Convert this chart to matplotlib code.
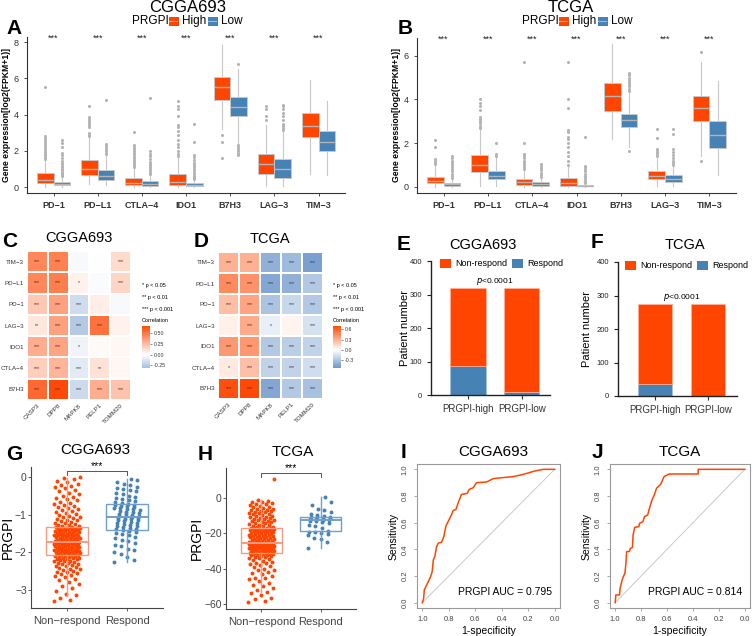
import numpy as np
import matplotlib
matplotlib.use("Agg")
from matplotlib import pyplot as plt
from matplotlib.colors import LinearSegmentedColormap, Normalize
from matplotlib.cm import ScalarMappable

plt.rcParams['font.family'] = ['Liberation Sans', 'DejaVu Sans']

ORANGE = '#FF4500'
BLUE = '#4682B4'

genes = ['PD-1', 'PD-L1', 'CTLA-4', 'IDO1', 'B7H3', 'LAG-3', 'TIM-3']
gene_ticks = ['PD\u22121', 'PD\u2212L1', 'CTLA\u22124', 'IDO1', 'B7H3', 'LAG\u22123', 'TIM\u22123']

# box stats per gene: (q1, median, q3, whisker low, whisker high)
cgga_high = [(0.22, 0.40, 0.77, 0.0, 1.5), (0.68, 1.02, 1.51, 0.15, 2.7), (0.13, 0.25, 0.51, 0.0, 1.05),
             (0.13, 0.30, 0.73, 0.0, 1.6), (4.82, 5.50, 6.07, 3.2, 7.85), (0.74, 1.25, 1.80, 0.03, 3.4),
             (2.74, 3.39, 4.10, 0.7, 5.9)]
cgga_low = [(0.09, 0.17, 0.28, 0.0, 0.55), (0.37, 0.60, 0.92, 0.1, 1.7), (0.06, 0.18, 0.31, 0.0, 0.65),
            (0.05, 0.12, 0.20, 0.0, 0.4), (3.90, 4.40, 4.96, 2.4, 6.5), (0.50, 0.97, 1.55, 0.03, 3.05),
            (1.99, 2.50, 3.09, 0.65, 4.75)]
cgga_high_fl = [[1.55, 1.6, 1.68, 1.75, 1.85, 1.95, 2.05, 2.15, 2.25, 2.35, 2.5, 2.62, 2.72, 2.8, 5.5],
                [2.8, 2.9, 3.0, 3.3, 3.45, 3.55, 3.65, 3.75, 3.85, 4.45],
                [1.1, 1.2, 1.3, 1.4, 1.5, 1.6, 1.7, 1.8, 1.9, 2.0, 2.1, 2.2, 2.3, 3.05],
                [1.7, 1.85, 2.0, 2.2, 2.4, 2.6, 2.85, 3.1, 3.3, 3.45, 3.9, 4.3, 4.5, 4.75],
                [2.85, 2.5, 1.6],
                [3.7, 3.95, 4.3, 4.45],
                []]
cgga_low_fl = [[0.6, 0.65, 0.7, 0.78, 0.85, 0.92, 1.0, 1.08, 1.15, 1.25, 1.35, 1.45, 1.6, 1.75, 1.9, 2.2, 2.45, 2.6],
               [1.8, 1.9, 2.0, 2.1, 2.2, 2.3, 2.35, 4.8],
               [0.7, 0.8, 0.9, 1.0, 1.1, 1.2, 1.3, 1.4, 1.55, 1.7, 1.85, 2.0, 4.9],
               [0.45, 0.5, 0.55, 0.6, 0.7, 0.8, 0.9, 1.0, 1.1, 1.2, 1.35, 1.5, 1.65, 1.75, 2.5, 3.5],
               [6.8, 2.3, 2.2, 2.1, 2.0, 1.9, 1.8, 1.75],
               [3.15, 3.25, 3.35, 3.5, 3.7, 3.9, 4.1, 4.3, 4.45, 4.55],
               []]

tcga_high = [(0.15, 0.27, 0.46, 0.0, 1.0), (0.66, 0.98, 1.45, 0.05, 2.6), (0.08, 0.20, 0.35, 0.0, 0.75),
             (0.05, 0.15, 0.41, 0.0, 0.95), (3.45, 4.15, 4.75, 2.2, 6.55), (0.35, 0.50, 0.72, 0.02, 1.3),
             (2.99, 3.60, 4.14, 1.4, 5.7)]
tcga_low = [(0.03, 0.10, 0.17, 0.0, 0.35), (0.34, 0.50, 0.72, 0.05, 1.3), (0.05, 0.13, 0.21, 0.0, 0.4),
            (0.01, 0.02, 0.06, 0.0, 0.1), (2.73, 3.05, 3.34, 1.8, 4.3), (0.23, 0.36, 0.54, 0.02, 0.95),
            (1.76, 2.35, 3.00, 0.55, 4.85)]
tcga_high_fl = [[1.05, 1.1, 1.15, 1.2, 1.25, 1.8, 2.15],
                [2.7, 2.8, 2.9, 3.0, 3.1, 3.2, 3.5, 3.7, 3.85, 4.0],
                [0.8, 0.9, 1.0, 1.1, 1.2, 1.3, 1.4, 1.5, 2.0, 5.7],
                [1.0, 1.2, 1.4, 1.6, 1.8, 2.0, 2.2, 2.3, 2.5, 2.6, 3.6, 4.0, 5.7],
                [],
                [1.4, 1.5, 1.6, 1.7, 1.75, 2.25, 2.65],
                [6.2, 1.2]]
tcga_low_fl = [[0.4, 0.5, 0.6, 0.7, 0.8, 0.9, 1.0, 1.1, 1.2, 1.3, 1.4],
               [1.4, 1.5, 2.0],
               [0.45, 0.55, 0.65, 0.75, 0.85, 0.95, 1.05],
               [0.15, 0.2, 0.3, 0.4, 0.5, 0.6, 0.7, 0.8, 0.9, 0.95, 2.3],
               [4.4, 4.5, 4.6, 4.7, 4.8, 4.9, 5.0, 5.1, 5.2, 1.65],
               [1.0, 1.1, 1.2, 1.3, 1.45, 1.6, 1.75, 2.4, 2.65],
               []]

# correlation heatmaps
hm_rows = ['TIM\u22123', 'PD\u2212L1', 'PD\u22121', 'LAG\u22123', 'IDO1', 'CTLA\u22124', 'B7H3']
hm_cols = ['CASP3', 'DPP8', 'MAPK8', 'PELP1', 'TOMM20']
cgga_cor = [[0.44, 0.46, -0.03, 0.00, 0.13],
            [0.44, 0.47, 0.05, -0.02, 0.15],
            [0.20, 0.34, -0.17, 0.06, -0.03],
            [0.09, 0.34, -0.26, 0.52, 0.05],
            [0.30, 0.33, -0.05, 0.02, 0.03],
            [0.18, 0.27, -0.10, 0.11, 0.03],
            [0.55, 0.66, -0.18, 0.30, 0.22]]
cgga_sig = [['***', '***', '', '', '***'],
            ['***', '***', '*', '', '***'],
            ['***', '***', '***', '', ''],
            ['**', '***', '***', '***', ''],
            ['***', '***', '*', '', ''],
            ['***', '***', '***', '**', ''],
            ['***', '***', '***', '***', '***']]
tcga_cor = [[0.30, 0.30, -0.40, -0.35, -0.48],
            [0.45, 0.42, -0.45, -0.40, -0.28],
            [0.25, 0.35, -0.30, -0.20, -0.28],
            [0.06, 0.33, -0.08, 0.04, -0.15],
            [0.40, 0.40, -0.28, -0.25, -0.22],
            [0.08, 0.25, -0.22, -0.22, -0.17],
            [0.68, 0.70, -0.45, -0.28, -0.32]]
tcga_sig = [['***', '***', '***', '***', '***'],
            ['***', '***', '***', '***', '***'],
            ['***', '***', '***', '***', '***'],
            ['', '***', '*', '', '***'],
            ['***', '***', '***', '***', '***'],
            ['*', '***', '***', '***', '***'],
            ['***', '***', '***', '***', '***']]

# response counts
groups = ['PRGPI-high', 'PRGPI-low']
cgga_resp = [88, 9]
cgga_nonresp = [231, 310]
tcga_resp = [36, 1]
tcga_nonresp = [239, 274]

# PRGPI scores by response
g_non = [-3.30, -3.27, -3.21, -3.14, -3.10, -3.03, -2.95, -2.90, -2.84, -2.79, -2.74, -2.70, -2.66, -2.63, -2.61,
         -2.58, -2.56, -2.53, -2.51, -2.49, -2.47, -2.45, -2.43, -2.41, -2.39, -2.37, -2.35, -2.34, -2.32, -2.30,
         -2.29, -2.27, -2.26, -2.24, -2.23, -2.22, -2.20, -2.19, -2.18, -2.17, -2.16, -2.15, -2.14, -2.13, -2.12,
         -2.11, -2.10, -2.09, -2.08, -2.07,
         -2.06, -2.05, -2.05, -2.04, -2.03, -2.02, -2.02, -2.01, -2.00, -1.99, -1.99, -1.98, -1.97, -1.96, -1.96,
         -1.95, -1.94, -1.93, -1.93, -1.92, -1.91, -1.90, -1.90, -1.89, -1.88, -1.87, -1.87, -1.86, -1.85, -1.84,
         -1.84, -1.83, -1.82, -1.81, -1.81, -1.80, -1.79, -1.78, -1.78, -1.77, -1.76, -1.76, -1.75, -1.75, -1.74,
         -1.74, -1.73, -1.73, -1.72, -1.72,
         -1.71, -1.70, -1.70, -1.69, -1.68, -1.67, -1.67, -1.66, -1.65, -1.64, -1.63, -1.63, -1.62, -1.61, -1.60,
         -1.59, -1.58, -1.58, -1.57, -1.56, -1.55, -1.54, -1.54, -1.53, -1.52, -1.51, -1.50, -1.50, -1.49, -1.48,
         -1.47, -1.46, -1.45, -1.45, -1.44, -1.43, -1.42, -1.41, -1.41, -1.40, -1.39, -1.38, -1.38, -1.37, -1.36,
         -1.35, -1.35, -1.34, -1.34, -1.33,
         -1.32, -1.30, -1.29, -1.27, -1.26, -1.24, -1.22, -1.21, -1.19, -1.17, -1.15, -1.13, -1.11, -1.09, -1.07,
         -1.05, -1.02, -1.00, -0.98, -0.95, -0.93, -0.90, -0.88, -0.85, -0.82, -0.80, -0.77, -0.74, -0.71, -0.68,
         -0.65, -0.62, -0.59, -0.56, -0.52, -0.49, -0.45, -0.41, -0.37, -0.33, -0.29, -0.26, -0.23, -0.21, -0.19,
         -0.14, -0.10, -0.06, -0.03, 0.00]
g_resp = [-2.25, -2.20, -2.12, -2.05, -1.98, -1.95, -1.90, -1.84, -1.80, -1.75, -1.70, -1.66, -1.62, -1.58, -1.55,
          -1.52, -1.49, -1.46, -1.43, -1.41, -1.39, -1.37, -1.35, -1.33, -1.31, -1.29, -1.27, -1.25, -1.23, -1.21,
          -1.19, -1.17, -1.15, -1.14, -1.12, -1.10, -1.09, -1.08, -1.06, -1.05, -1.04, -1.02, -1.00, -0.99, -0.97,
          -0.95, -0.93, -0.92, -0.90, -0.88, -0.86, -0.85, -0.83, -0.81, -0.79, -0.78, -0.76, -0.75, -0.73, -0.72,
          -0.70, -0.67, -0.64, -0.61, -0.58, -0.55, -0.52, -0.49, -0.45, -0.42, -0.38, -0.35, -0.31, -0.28, -0.25,
          -0.21, -0.17, -0.13, -0.08, -0.05]
h_non = [-59, -58, -57, -56.5, -55, -54, -53, -52, -51, -50, -49, -48, -47, -46, -45.5, -45, -44, -43, -42.5, -42,
         -41, -40.5, -40, -39, -38.5, -38, -37.5, -37, -36.5, -36, -35.5, -35, -34.5, -34, -33.8, -33.5, -33.2, -33,
         -32.8, -32.5, -32.3, -32, -31.9, -31.7, -31.5, -31.4, -31.3, -31.2, -31.1, -31,
         -30.9, -30.8, -30.6, -30.5, -30.4, -30.2, -30.1, -30, -29.8, -29.7, -29.5, -29.4, -29.2, -29.1, -29,
         -28.8, -28.7, -28.5, -28.4, -28.2, -28.1, -28, -27.8, -27.7, -27.5, -27.4, -27.3, -27.1, -27, -26.9,
         -26.8, -26.6, -26.5, -26.4, -26.3, -26.2, -26.1, -26, -25.9, -25.85, -25.8, -25.75, -25.7, -25.65, -25.6,
         -25.58, -25.55, -25.53, -25.51, -25.5,
         -25.3, -25.1, -24.9, -24.7, -24.5, -24.3, -24.1, -23.9, -23.7, -23.5, -23.3, -23.1, -22.9, -22.7, -22.5,
         -22.3, -22.1, -21.9, -21.7, -21.5, -21.3, -21.1, -20.9, -20.7, -20.5, -20.3, -20.1, -19.9, -19.7, -19.5,
         -19.3, -19.1, -18.9, -18.7, -18.5, -18.4, -18.2, -18.1, -17.9, -17.8, -17.7, -17.6, -17.5, -17.4, -17.3,
         -17.25, -17.2, -17.1, -17.05, -17.0,
         -16.8, -16.5, -16.2, -15.9, -15.6, -15.3, -15.0, -14.7, -14.4, -14.1, -13.8, -13.5, -13.2, -12.9, -12.6,
         -12.3, -12.0, -11.7, -11.4, -11.1, -10.8, -10.5, -10.2, -9.9, -9.6, -9.3, -9.0, -8.7, -8.4, -8.1, -7.8,
         -7.5, -7.2, -6.9, -6.6, -6.3, -6.0, -5.6, -5.2, -4.8, -4.4, -4.0, -3.6, -3.2, -2.8, -2.4, -2.0, -1.5,
         -1.0, 10.5]
h_resp = [-28, -25, -23, -22.5, -21, -20.5, -20, -19.5, -19, -18.5, -17, -16, -15, -14, -13.5, -13, -12.8, -12.5,
          -12.2, -12, -11.8, -11.5, -11.2, -11, -10.8, -10.5, -10, -9.5, -9, -8, -7, -6, -4, -2, 0.5]
# box stats (q1, median, q3, whisker low, whisker high)
g_box = [(-2.07, -1.72, -1.33, -3.15, -0.03), (-1.40, -1.05, -0.72, -2.25, -0.05)]
h_box = [(-31.0, -25.5, -17.0, -53.0, -1.0), (-18.5, -12.5, -10.5, -28.0, 0.5)]

# ROC curves (specificity, sensitivity)
cgga_spec = [1.0, 0.99, 0.985, 0.967, 0.955, 0.937, 0.925, 0.917, 0.905, 0.892, 0.879, 0.854, 0.837, 0.822,
             0.804, 0.779, 0.766, 0.746, 0.729, 0.704, 0.661, 0.646, 0.616, 0.59, 0.515, 0.465, 0.402, 0.314,
             0.239, 0.151, 0.088, 0.0]
cgga_sens = [0.0, 0.03, 0.095, 0.133, 0.158, 0.196, 0.234, 0.32, 0.347, 0.42, 0.447, 0.452, 0.497, 0.573,
             0.61, 0.66, 0.693, 0.698, 0.749, 0.812, 0.819, 0.849, 0.862, 0.9, 0.905, 0.93, 0.937, 0.945,
             0.962, 0.987, 1.0, 1.0]
tcga_spec = [1.0, 0.995, 0.967, 0.962, 0.95, 0.937, 0.925, 0.917, 0.912, 0.892, 0.882, 0.867, 0.862, 0.849,
             0.817, 0.812, 0.786, 0.774, 0.749, 0.736, 0.716, 0.698, 0.681, 0.648, 0.623, 0.585, 0.36, 0.36, 0.0]
tcga_sens = [0.0, 0.058, 0.058, 0.108, 0.158, 0.195, 0.22, 0.295, 0.383, 0.383, 0.408, 0.413, 0.508, 0.565,
             0.57, 0.595, 0.608, 0.645, 0.658, 0.708, 0.77, 0.808, 0.858, 0.89, 0.945, 0.965, 0.965, 1.0, 1.0]

W, H = 753, 636
fig = plt.figure(figsize=(W / 100, H / 100), dpi=100)


def px_axes(l, t, r, b):
    return fig.add_axes([l / W, 1 - b / H, (r - l) / W, (b - t) / H])


def ftext(x, y, s, **kw):
    kw.setdefault('ha', 'center')
    kw.setdefault('va', 'center')
    fig.text(x / W, 1 - y / H, s, **kw)


def swatch(l, t, r, b, col, mid=None):
    ax = px_axes(l, t, r, b)
    ax.axis('off')
    ax.set_xlim(0, 1)
    ax.set_ylim(0, 1)
    ax.fill_between([0, 1], 0, 1, color=col)
    if mid:
        ax.plot([0, 1], [0.5, 0.5], color=mid, lw=0.8)


def classic(ax, color='#333333'):
    for s in ['top', 'right']:
        ax.spines[s].set_visible(False)
    for s in ['left', 'bottom']:
        ax.spines[s].set_color(color)
        ax.spines[s].set_linewidth(0.8)
    ax.tick_params(colors=color, width=0.6, length=2.5)


def stats_list(box, fliers):
    out = []
    for (q1, med, q3, lo, hi), fl in zip(box, fliers):
        out.append(dict(q1=q1, med=med, q3=q3, whislo=lo, whishi=hi, fliers=fl))
    return out


def expr_panel(ax, high, low, high_fl, low_fl, ylim, yticks):
    pos = np.arange(1, 8)
    for st, fl, dx, col in [(high, high_fl, -0.1875, ORANGE), (low, low_fl, 0.1875, BLUE)]:
        ax.bxp(stats_list(st, fl), positions=pos + dx, widths=0.375, patch_artist=True, showcaps=False,
               boxprops=dict(facecolor=col, edgecolor='#C8C8C8', linewidth=0.7),
               medianprops=dict(color='#B4B4B4', linewidth=1.0),
               whiskerprops=dict(color='#C8C8C8', linewidth=0.8),
               flierprops=dict(marker='o', markersize=2.2, markerfacecolor='#B4B4B4', markeredgecolor='none'))
    ax.set_xlim(0.4, 7.6)
    ax.set_ylim(*ylim)
    ax.set_yticks(yticks)
    ax.set_xticks(pos)
    ax.set_xticklabels(gene_ticks, fontsize=6.5, fontweight='bold', color='#222222')
    ax.tick_params(axis='y', labelsize=6.5)
    ax.set_ylabel('Gene expression[log2(FPKM+1)]', fontsize=6.2, fontweight='bold', labelpad=2)
    classic(ax)
    star_y = ylim[1] - (ylim[1] - ylim[0]) * 0.01
    for p in pos:
        ax.text(p, star_y, '***', ha='center', va='center', fontsize=6.5, color='#222222')


def legend_high_low(x0, y0):
    ftext(x0, y0, 'PRGPI', fontsize=8.5, ha='left')
    for dx, lab, col in [(37, 'High', ORANGE), (76, 'Low', BLUE)]:
        swatch(x0 + dx, y0 - 4, x0 + dx + 9, y0 + 4, col, '#B4B4B4')
        ftext(x0 + dx + 13, y0, lab, fontsize=8.5, ha='left')


# A
axA = px_axes(27, 37, 345, 193)
expr_panel(axA, cgga_high, cgga_low, cgga_high_fl, cgga_low_fl, (-0.33, 8.29), [0, 2, 4, 6, 8])
ftext(188, 7, 'CGGA693', fontsize=12)
legend_high_low(132, 21)
ftext(14, 29, 'A', fontsize=15, fontweight='bold')

# B
axB = px_axes(417, 38, 736, 193)
expr_panel(axB, tcga_high, tcga_low, tcga_high_fl, tcga_low_fl, (-0.29, 6.82), [0, 2, 4, 6])
ftext(571, 7, 'TCGA', fontsize=12)
legend_high_low(522, 21)
ftext(405, 29, 'B', fontsize=15, fontweight='bold')

# heatmaps
hm_cmap = LinearSegmentedColormap.from_list('rb', ['#3A72B8', '#FFFFFF', ORANGE])


def heat_panel(box, cor, sig, vmax, cbox, cticks, fmt, legx):
    ax = px_axes(*box)
    mat = np.array(cor)
    norm = Normalize(-vmax, vmax)
    ax.pcolormesh(mat[::-1], cmap=hm_cmap, norm=norm, edgecolors='white', linewidth=0.3)
    nr, nc = mat.shape
    for i in range(nr):
        for j in range(nc):
            ax.text(j + 0.5, nr - i - 0.5, sig[i][j], ha='center', va='center', fontsize=3.8, color='#333333')
    ax.set_xlim(0, nc)
    ax.set_ylim(0, nr)
    ax.set_yticks(np.arange(nr) + 0.5)
    ax.set_yticklabels(hm_rows[::-1], fontsize=4.5, color='#333333')
    ax.set_xticks(np.arange(nc) + 0.5)
    ax.set_xticklabels(hm_cols, fontsize=4.5, rotation=45, ha='right', rotation_mode='anchor', color='#333333')
    ax.tick_params(length=0, pad=2)
    for s in ax.spines.values():
        s.set_visible(False)
    lo, hi = mat.min() - 0.05, mat.max()
    ftext(legx, 285, '* p < 0.05', fontsize=4, ha='left')
    ftext(legx, 297, '** p < 0.01', fontsize=4, ha='left')
    ftext(legx, 309, '*** p < 0.001', fontsize=4, ha='left')
    ftext(legx, 320, 'Correlation', fontsize=4, ha='left')
    cax = px_axes(*cbox)
    cb = fig.colorbar(ScalarMappable(norm=norm, cmap=hm_cmap), cax=cax,
                      boundaries=np.linspace(lo, hi, 200))
    cb.outline.set_visible(False)
    cb.set_ticks(cticks)
    cb.ax.set_yticklabels([fmt % t for t in cticks])
    cb.ax.tick_params(labelsize=3.8, length=1.5, width=0.4, colors='#333333', pad=1.5)


heat_panel((27, 251, 131, 400), cgga_cor, cgga_sig, 0.68, (142, 326, 150, 368),
           [-0.25, 0.0, 0.25, 0.5], '%.2f', 142)
ftext(79, 238, 'CGGA693', fontsize=10.5)
ftext(10, 241, 'C', fontsize=15, fontweight='bold')
heat_panel((218, 252, 323, 399), tcga_cor, tcga_sig, 0.72, (333, 326, 341, 368),
           [-0.3, 0.0, 0.3, 0.6], '%.1f', 333)
ftext(270, 239, 'TCGA', fontsize=10.5)
ftext(201, 241, 'D', fontsize=15, fontweight='bold')


# E / F
def bar_panel(box, resp, nonresp, xlim, ptext_y):
    ax = px_axes(*box)
    x = np.arange(1, 3)
    ax.bar(x, resp, width=0.65, color=BLUE, edgecolor='#9FC0DD', linewidth=0.5)
    ax.bar(x, nonresp, bottom=resp, width=0.65, color=ORANGE, edgecolor='#FFB39A', linewidth=0.5)
    ax.set_xlim(*xlim)
    ax.set_ylim(0, 400)
    ax.set_yticks([0, 100, 200, 300, 400])
    ax.set_xticks(x)
    ax.set_xticklabels(groups, fontsize=7)
    ax.tick_params(axis='y', labelsize=5.5)
    for s in ['top', 'right']:
        ax.spines[s].set_visible(False)
    for s in ['left', 'bottom']:
        ax.spines[s].set_linewidth(1.0)
        ax.spines[s].set_color('#222222')
    ax.tick_params(length=3, width=0.8, colors='#222222')
    ax.tick_params(axis='x', colors='#333333')
    ax.text(1.5, ptext_y, r'$\it{p}$<0.0001', ha='center', va='bottom', fontsize=6)
    return ax


axE = bar_panel((431, 261, 550, 395), cgga_resp, cgga_nonresp, (0.315, 2.52), 322)
axF = bar_panel((618, 262, 737, 396), tcga_resp, tcga_nonresp, (0.3, 2.55), 278)
axF.set_ylabel('Patient number', fontsize=8, labelpad=3)
ftext(405, 328, 'Patient number', fontsize=8, rotation=90)
ftext(483, 245, 'CGGA693', fontsize=10.5)
ftext(404, 244, 'E', fontsize=15, fontweight='bold')
ftext(685, 245, 'TCGA', fontsize=10.5)
ftext(597, 243, 'F', fontsize=15, fontweight='bold')
for x0, y0 in [(440, 263), (625, 265)]:
    swatch(x0, y0 - 4, x0 + 10, y0 + 4, ORANGE)
    ftext(x0 + 15, y0, 'Non-respond', fontsize=6.5, ha='left')
    swatch(x0 + 72, y0 - 4, x0 + 82, y0 + 4, BLUE)
    ftext(x0 + 87, y0, 'Respond', fontsize=6.5, ha='left')


# G / H
def jitter(n, width=0.22, step=0.618034):
    return ((np.arange(n) * step) % 1.0 - 0.5) * 2 * width


def score_panel(box, non, resp, bstats, ylim, yticks, bracket, label_x):
    ax = px_axes(*box)
    ax.scatter(1 + jitter(len(non)), non, s=8, color=ORANGE, linewidths=0, zorder=2)
    ax.scatter(2 + jitter(len(resp), step=0.7548777), resp, s=8, color=BLUE, linewidths=0, zorder=2)
    for i, (st, col) in enumerate([(bstats[0], '#F79A83'), (bstats[1], '#6F9FCC')]):
        q1, med, q3, lo, hi = st
        ax.bxp([dict(q1=q1, med=med, q3=q3, whislo=lo, whishi=hi, fliers=[])], positions=[i + 1], widths=0.7,
               showcaps=False, patch_artist=True,
               boxprops=dict(facecolor='none', edgecolor=col, linewidth=1.0),
               medianprops=dict(color=col, linewidth=1.4),
               whiskerprops=dict(color=col, linewidth=1.0), manage_ticks=False)
    ax.set_xlim(0.4, 2.6)
    ax.set_ylim(*ylim)
    ax.set_yticks(yticks)
    ax.set_xticks([1, 2])
    ax.set_xticklabels(['Non\u2212respond', 'Respond'], fontsize=8)
    classic(ax, '#444444')
    ax.tick_params(axis='y', labelsize=7.5, pad=1, length=2)
    ftext(label_x, (box[1] + box[3]) / 2, 'PRGPI', fontsize=10, rotation=90)
    by, tick = bracket
    ax.plot([1, 1, 2, 2], [by - tick, by, by, by - tick], color='#555555', lw=0.7)
    ax.text(1.5, by, '***', ha='center', va='bottom', fontsize=7.5)
    return ax


score_panel((31, 467, 163, 608), g_non, g_resp, g_box, (-3.48, 0.27), [0, -1, -2, -3], (0.17, 0.1), 8)
ftext(95, 450, 'CGGA693', fontsize=11)
ftext(14, 455, 'G', fontsize=15, fontweight='bold')
score_panel((226, 468, 356, 609), h_non, h_resp, h_box, (-62.8, 17), [0, -20, -40, -60], (14, 2), 197)
ftext(293, 452, 'TCGA', fontsize=11)
ftext(205, 455, 'H', fontsize=15, fontweight='bold')


# I / J
def roc_panel(box, spec, sens, auc):
    ax = px_axes(*box)
    ax.plot([1, 0], [0, 1], color='#C8C8C8', lw=0.7)
    ax.plot(spec, sens, color=ORANGE, lw=1.1)
    ax.set_xlim(1.04, -0.04)
    ax.set_ylim(-0.04, 1.04)
    ticks = [1.0, 0.8, 0.6, 0.4, 0.2, 0.0]
    ax.set_xticks(ticks)
    ax.set_xticklabels(['%.1f' % t for t in ticks], fontsize=5.5)
    ax.set_yticks(ticks[::-1])
    ax.set_yticklabels(['%.1f' % t for t in ticks[::-1]], fontsize=5.5, rotation=90, va='center')
    for s in ax.spines.values():
        s.set_color('#9A9A9A')
        s.set_linewidth(0.8)
    ax.tick_params(length=2.5, width=0.6, colors='#9A9A9A', labelcolor='#444444')
    ax.set_xlabel('1-specificity', fontsize=7.5, labelpad=2)
    ax.set_ylabel('Sensitivity', fontsize=7.5, labelpad=2)
    ax.text(0.02, 0.08, 'PRGPI AUC = %.3f' % auc, ha='right', va='center', fontsize=7.5)
    return ax


roc_panel((417, 464, 560, 608), cgga_spec, cgga_sens, 0.795)
ftext(493, 452, 'CGGA693', fontsize=11)
ftext(404, 453, 'I', fontsize=15, fontweight='bold')
roc_panel((610, 464, 750, 608), tcga_spec, tcga_sens, 0.814)
ftext(680, 452, 'TCGA', fontsize=11)
ftext(597, 453, 'J', fontsize=15, fontweight='bold')

fig.savefig('out.png', dpi=100)
